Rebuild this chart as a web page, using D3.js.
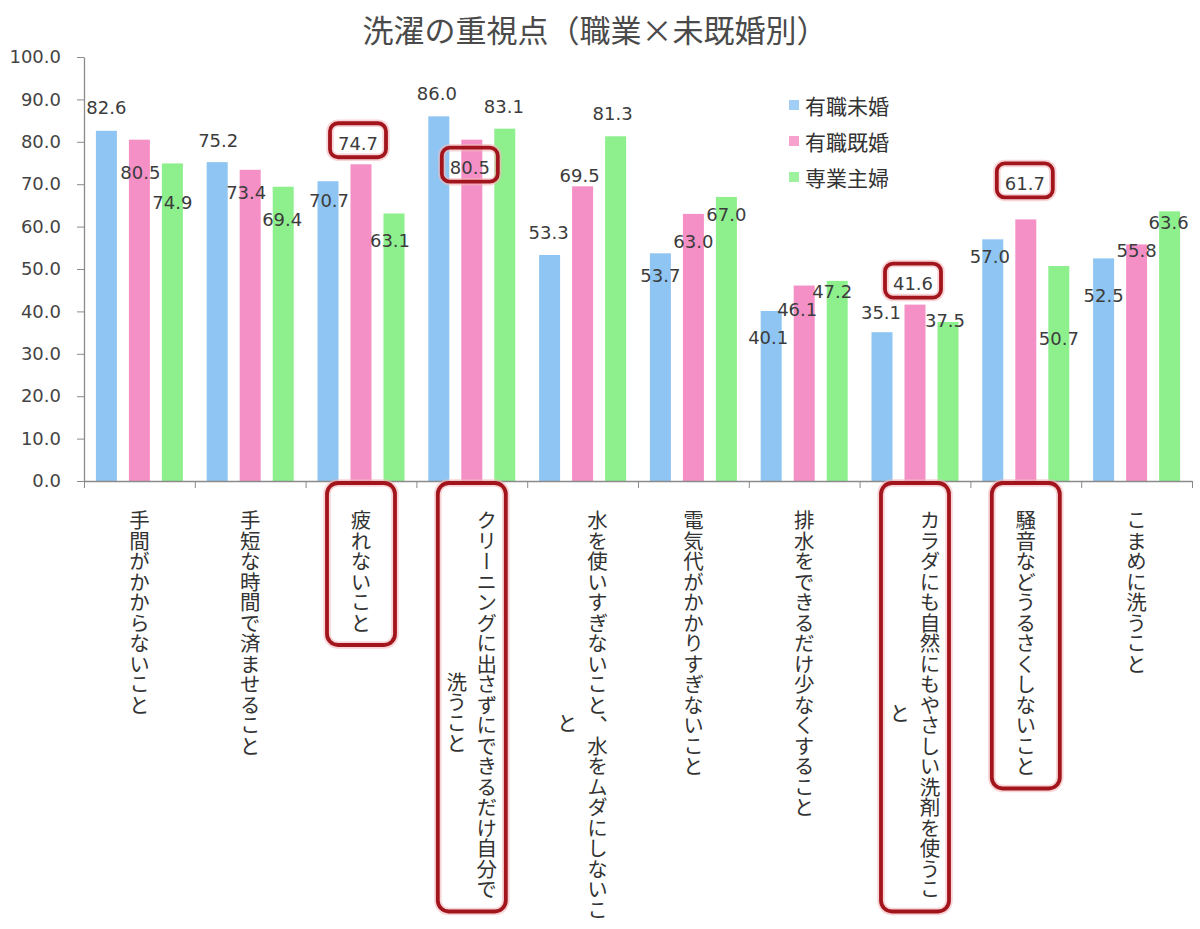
<!DOCTYPE html>
<html>
<head>
<meta charset="utf-8">
<script src="https://cdn.jsdelivr.net/npm/d3@7"></script>
<style>
  body { margin: 0; background: #fff; }
  svg { display: block; }
  .jp { font-family: "Noto Sans CJK JP", "Noto Sans", sans-serif; }
  .num { font-family: "DejaVu Sans", sans-serif; }
</style>
</head>
<body>
<svg></svg>
<script>
// 洗濯の重視点（職業×未既婚別）

var width = 1200;
var height = 929;

var title = "洗濯の重視点（職業×未既婚別）";

// each category label, already split into the lines the chart wraps it at
var categories = [
  ["手間がかからないこと"],
  ["手短な時間で済ませること"],
  ["疲れないこと"],
  ["クリーニングに出さずにできるだけ自分で", "洗うこと"],
  ["水を使いすぎないこと、水をムダにしないこ", "と"],
  ["電気代がかかりすぎないこと"],
  ["排水をできるだけ少なくすること"],
  ["カラダにも自然にもやさしい洗剤を使うこ", "と"],
  ["騒音などうるさくしないこと"],
  ["こまめに洗うこと"]
];

var seriesNames = ["有職未婚", "有職既婚", "専業主婦"];
var workingSingle  = [82.6, 75.2, 70.7, 86.0, 53.3, 53.7, 40.1, 35.1, 57.0, 52.5];
var workingMarried = [80.5, 73.4, 74.7, 80.5, 69.5, 63.0, 46.1, 41.6, 61.7, 55.8];
var housewives     = [74.9, 69.4, 63.1, 83.1, 81.3, 67.0, 47.2, 37.5, 50.7, 63.6];
var seriesValues = [workingSingle, workingMarried, housewives];

var yTicks = [0, 10, 20, 30, 40, 50, 60, 70, 80, 90, 100];

// categories circled in red (and the 有職既婚 value above them)
var highlighted = [2, 3, 7, 8];

var colors = ["#8fc5f2", "#f590c6", "#8df08d"];

// where excel left each data label, relative to the top centre of its bar
var labelNudge = [
  [[0, -23], [1, -22], [1, 19], [-2, -23], [-1, -23], [0, 22], [-3, 27], [-1, -20], [-3, 17], [0, 37]],
  [[1, 33], [-4, 23], [-3, -21], [-2, 28], [-3, -11], [0, 28], [-7, 24], [-2, -21], [-1, -36], [0, 6]],
  [[0, 39], [-1, 33], [-4, 27], [-1, -22], [-3, -23], [0, 18], [-5, 11], [-3, -2], [0, 72], [-1, 11]]
];

var margin = { left: 84, right: 8, top: 57, bottom: 448 };
var plotBottom = height - margin.bottom; // 481

var x0 = d3.scaleBand()
  .domain(d3.range(categories.length))
  .range([margin.left, width - margin.right]);

var x1 = d3.scaleBand()
  .domain(d3.range(seriesNames.length))
  .range([x0.bandwidth() / 2 - 43.5, x0.bandwidth() / 2 + 43.5])
  .paddingInner(12 / 33);

var y = d3.scaleLinear()
  .domain([0, 100])
  .range([plotBottom, margin.top]);

var svg = d3.select("svg")
  .attr("width", width)
  .attr("height", height);

// title
svg.append("text")
  .attr("class", "jp")
  .attr("x", 595)
  .attr("y", 28)
  .attr("text-anchor", "middle")
  .attr("dominant-baseline", "central")
  .style("font-size", "31px")
  .style("fill", "#4a4a4a")
  .text(title);

// y axis
var yAxis = svg.append("g")
  .attr("class", "num")
  .attr("transform", "translate(" + margin.left + ",0)")
  .call(d3.axisLeft(y)
    .tickValues(yTicks)
    .tickFormat(d3.format(".1f"))
    .tickSize(7)
    .tickSizeOuter(0)
    .tickPadding(16));
yAxis.selectAll("text").style("font-size", "18px").style("fill", "#444");
yAxis.selectAll("line, path").attr("stroke", "#8a8a8a");
yAxis.select(".domain").attr("stroke-width", 1.3);

// bars
var groups = svg.append("g")
  .selectAll("g")
  .data(categories)
  .join("g")
    .attr("transform", (d, i) => "translate(" + x0(i) + ",0)");

groups.selectAll("rect")
  .data((d, i) => seriesValues.map((vals, s) => ({ s: s, i: i, v: vals[i] })))
  .join("rect")
    .attr("x", d => x1(d.s))
    .attr("width", x1.bandwidth())
    .attr("y", d => y(d.v))
    .attr("height", d => y(0) - y(d.v))
    .attr("fill", d => colors[d.s]);

// x axis: line with ticks at the category boundaries
var xEdges = d3.scaleLinear().domain([0, categories.length]).range(x0.range());
var xAxis = svg.append("g")
  .attr("transform", "translate(0," + plotBottom + ")")
  .call(d3.axisBottom(xEdges)
    .tickValues(d3.range(categories.length + 1))
    .tickFormat("")
    .tickSize(7)
    .tickSizeOuter(0));
xAxis.selectAll("line, path").attr("stroke", "#8a8a8a");
xAxis.select(".domain").attr("stroke-width", 1.3);

// data labels
var labels = [];
seriesValues.forEach(function (vals, s) {
  vals.forEach(function (v, i) {
    labels.push({
      s: s, i: i, v: v,
      x: x0(i) + x1(s) + x1.bandwidth() / 2 + labelNudge[s][i][0],
      y: y(v) + labelNudge[s][i][1]
    });
  });
});

svg.append("g")
  .selectAll("text")
  .data(labels)
  .join("text")
    .attr("class", "num")
    .attr("x", d => d.x)
    .attr("y", d => d.y)
    .attr("text-anchor", "middle")
    .attr("dominant-baseline", "central")
    .style("font-size", "18px")
    .style("fill", "#3c3c3c")
    .text(d => d3.format(".1f")(d.v));

// vertical category labels
var catFont = 20.5;
var catTop = 510;
var catGroups = svg.append("g")
  .selectAll("g")
  .data(categories)
  .join("g")
    .attr("class", "jp");

catGroups.each(function (lines, i) {
  var g = d3.select(this);
  var cx = x0(i) + x0.bandwidth() / 2;
  var longest = d3.max(lines, l => l.length) * catFont;
  lines.forEach(function (line, k) {
    g.append("text")
      .attr("x", cx + (lines.length - 1) * 15 - k * 30)
      .attr("y", catTop + longest / 2 + k * 8)
      .attr("text-anchor", "middle")
      .style("writing-mode", "vertical-rl")
      .style("font-size", catFont + "px")
      .style("fill", "#333")
      .text(line);
  });
});

// red highlight boxes
function redBox(x, y, w, h, r) {
  svg.append("rect")
    .attr("x", x).attr("y", y).attr("width", w).attr("height", h)
    .attr("rx", r).attr("fill", "none")
    .attr("stroke", "#f2b9bd").attr("stroke-width", 7.5).attr("opacity", 0.6);
  svg.append("rect")
    .attr("x", x).attr("y", y).attr("width", w).attr("height", h)
    .attr("rx", r).attr("fill", "none")
    .attr("stroke", "#a3151c").attr("stroke-width", 3.8);
}

highlighted.forEach(function (i) {
  var cx = x0(i) + x0.bandwidth() / 2;
  var longest = d3.max(categories[i], l => l.length) * catFont;
  redBox(cx - 34, plotBottom + 2, 68, catTop + longest + 12 - (plotBottom + 2), 11);

  var lab = labels.find(d => d.s === 1 && d.i === i);
  redBox(lab.x - 28, lab.y - 20, 56, 34, 8);
});

// legend
var legend = svg.append("g")
  .attr("class", "jp")
  .selectAll("g")
  .data(seriesNames)
  .join("g")
    .attr("transform", (d, i) => "translate(789," + (105 + i * 36) + ")");

legend.append("rect")
  .attr("x", 0)
  .attr("y", -5)
  .attr("width", 10)
  .attr("height", 10)
  .attr("fill", (d, i) => colors[i])
  .attr("opacity", 0.85);

legend.append("text")
  .attr("x", 16)
  .attr("y", 0)
  .attr("dominant-baseline", "central")
  .style("font-size", "21px")
  .style("fill", "#333")
  .text(d => d);
</script>
</body>
</html>
